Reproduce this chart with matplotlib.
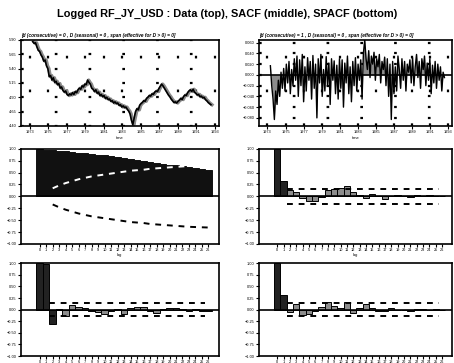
# Logged RF_JY_USD: data, SACF and SPACF panels
import matplotlib
matplotlib.use("Agg")
import matplotlib.pyplot as plt
import numpy as np

plt.rcParams['font.family'] = ['Liberation Sans', 'DejaVu Sans']

# levels series (log of yen per dollar)
levels = [5.87, 5.84, 5.85, 5.78, 5.72, 5.70, 5.64, 5.60, 5.53, 5.55,
          5.45, 5.40, 5.26, 5.28, 5.20, 5.24, 5.16, 5.18, 5.12, 5.14,
          5.06, 5.08, 5.02, 4.99, 5.01, 4.95, 4.93, 4.96, 4.94, 4.98,
          4.95, 5.00, 4.98, 5.03, 5.06, 5.04, 5.10, 5.08, 5.13, 5.12,
          5.20, 5.16, 5.13, 5.06, 5.04, 5.00, 5.03, 4.97, 4.99, 4.93,
          4.95, 4.91, 4.93, 4.88, 4.90, 4.86, 4.87, 4.83, 4.84, 4.80,
          4.82, 4.79, 4.80, 4.76, 4.77, 4.73, 4.75, 4.72, 4.73, 4.69,
          4.66, 4.61, 4.50, 4.42, 4.54, 4.65, 4.70, 4.68, 4.76, 4.79,
          4.81, 4.84, 4.83, 4.88, 4.90, 4.93, 4.92, 4.96, 4.95, 4.99,
          5.01, 5.00, 5.05, 5.09, 5.13, 5.10, 5.06, 5.02, 4.98, 4.94,
          4.91, 4.87, 4.84, 4.81, 4.82, 4.80, 4.83, 4.85, 4.88, 4.86,
          4.91, 4.94, 4.93, 4.98, 5.01, 5.03, 5.00, 5.04, 4.99, 4.97,
          4.94, 4.95, 4.91, 4.92, 4.89, 4.90, 4.86, 4.84, 4.81, 4.79,
          4.77]

# first differences (x1000)
diffs_k = [17, -20, -45, -83, -30, -55, -10, -40, 5, -25,
           12, -30, 20, -15, 25, -35, 10, -20, 30, -10,
           35, -40, 28, -20, 38, -50, 15, -30, 32, -10,
           25, -45, 36, -25, 20, -80, 30, -15, 38, -40,
           10, -30, 34, -20, 22, -55, 30, -10, 26, -35,
           18, -45, 30, -25, 28, -60, 22, -15, 35, -35,
           15, -50, 25, -20, 32, -30, 20, -10, 28, -45,
           40, 65, 30, 10, 45, -5, 35, 20, 42, -10,
           30, 15, 38, -15, 25, 10, 33, -20, 30, -40,
           20, -83, 25, -35, 15, -30, 35, 10, -25, 30,
           -10, 25, -30, 20, 5, 28, -15, 32, -20, 15,
           38, -5, 25, -25, 30, 10, 35, -20, 22, -10,
           30, -35, 18, -15, 25, -25, 20, -10, 15, -30,
           5, -5]
diffs = [v / 1000 for v in diffs_k]

year_labels = ['1973', '1975', '1977', '1979', '1981', '1983',
               '1985', '1987', '1989', '1991', '1993']

lags = list(range(27))

sacf_levels = [0.99, 0.98, 0.97, 0.96, 0.95, 0.93, 0.92, 0.91, 0.89, 0.88,
               0.86, 0.85, 0.83, 0.81, 0.79, 0.77, 0.75, 0.73, 0.71, 0.69,
               0.67, 0.65, 0.63, 0.61, 0.59, 0.57, 0.55]
# Bartlett bands for lags 2..26
sacf_levels_band = [0.17, 0.23, 0.28, 0.32, 0.36, 0.39, 0.42, 0.44, 0.46,
                    0.48, 0.50, 0.52, 0.54, 0.55, 0.56, 0.58, 0.59, 0.60,
                    0.61, 0.62, 0.63, 0.64, 0.645, 0.65, 0.655]

sacf_diffs = [1.0, 0.32, 0.13, 0.10, -0.04, -0.09, -0.10, -0.01, 0.14, 0.15,
              0.17, 0.22, 0.10, 0.02, -0.04, 0.05, 0.01, -0.06, 0.01, 0.03,
              0.01, -0.02, 0.02, 0.01, 0.02, 0.01, 0.0]
sacf_diffs_band = 0.15

spacf_levels = [1.0, 0.99, -0.30, 0.02, -0.13, 0.10, 0.06, 0.04, -0.03, -0.05,
                -0.10, -0.04, 0.02, -0.10, 0.03, 0.05, 0.05, -0.03, -0.08, 0.02,
                0.03, 0.04, 0.02, -0.02, 0.01, -0.02, -0.03]
spacf_levels_band = 0.14

spacf_diffs = [1.0, 0.31, -0.06, 0.12, -0.11, -0.09, -0.02, 0.05, 0.16, 0.07,
               0.03, 0.16, -0.07, 0.03, 0.12, 0.03, -0.04, -0.02, 0.03, 0.0,
               0.0, -0.02, 0.01, 0.02, 0.0, 0.01, 0.0]
spacf_diffs_band = 0.14

sub_left = '[d (consecutive) = 0 , D (seasonal) = 0 , span (effective for D > 0) = 0]'
sub_right = '[d (consecutive) = 1 , D (seasonal) = 0 , span (effective for D > 0) = 0]'

fig = plt.figure(figsize=(4.54, 3.63), dpi=100)
fig.text(0.5, 0.962, 'Logged RF_JY_USD : Data (top), SACF (middle), SPACF (bottom)',
         ha='center', va='center', fontsize=7.9, fontweight='bold')

col_x = [(0.046, 0.436), (0.570, 0.426)]
row_y = [(0.653, 0.237), (0.328, 0.262), (0.019, 0.256)]

def style(ax):
    for s in ax.spines.values():
        s.set_linewidth(1.2)
    ax.tick_params(labelsize=2.8, length=2, width=0.8, pad=1)

def dotted_grid(ax):
    ax.grid(True, linestyle=(0, (1.2, 14)), color='black', linewidth=1.6)
    ax.set_axisbelow(True)

def time_axis(ax, n):
    span = (n - 1) / 0.9
    x0 = -0.06 * span
    ax.set_xlim(x0, x0 + span)
    ticks = np.linspace(x0 + 0.045 * span, x0 + 0.98 * span, len(year_labels))
    ax.set_xticks(ticks)
    ax.set_xticklabels(year_labels)
    ax.set_xlabel('time', fontsize=3, labelpad=1)

# top left: levels
ax = fig.add_axes([col_x[0][0], row_y[0][0], col_x[0][1], row_y[0][1]])
style(ax)
dotted_grid(ax)
x = np.arange(len(levels))
ax.plot(x + 0.8, levels, color='#8a8a8a', lw=2.4)
ax.plot(x, levels, color='black', lw=1.2)
ax.set_ylim(4.4, 5.9)
ax.set_yticks(np.arange(4.4, 5.91, 0.25))
ax.yaxis.set_major_formatter('{x:.2f}')
time_axis(ax, len(levels))
ax.set_title(sub_left, fontsize=3.4, style='italic', fontweight='bold', loc='left', pad=2)

# top right: differences
ax = fig.add_axes([col_x[1][0], row_y[0][0], col_x[1][1], row_y[0][1]])
style(ax)
dotted_grid(ax)
x = np.arange(len(diffs))
ax.fill_between(x, diffs, 0, color='#8c8c8c', lw=0)
ax.plot(x, diffs, color='black', lw=1.0)
ax.axhline(0, color='black', lw=1.2)
ax.set_ylim(-0.095, 0.065)
ax.set_yticks(np.arange(-0.08, 0.061, 0.02))
ax.yaxis.set_major_formatter('{x:.3f}')
time_axis(ax, len(diffs))
ax.set_title(sub_right, fontsize=3.4, style='italic', fontweight='bold', loc='left', pad=2)

def corr_panel(ax, vals, band, fill, edge, band_upper_color='black', xlabel=True):
    style(ax)
    ax.bar(lags, vals, width=1.0, color=fill, edgecolor=edge, linewidth=0.7)
    ax.axhline(0, color='black', lw=1.2)
    ax.set_xlim(-2.9, 27.6)
    ax.set_ylim(-1, 1)
    ax.set_yticks(np.arange(-1, 1.01, 0.25))
    ax.yaxis.set_major_formatter('{x:.2f}')
    ax.set_xticks(lags)
    ax.set_xticklabels([str(l) for l in lags])
    if np.ndim(band) == 0:
        bx = [lags[1] + 0.5, lags[-1] - 0.5]
        ax.plot(bx, [band, band], color=band_upper_color, lw=1.4, dashes=(3, 3))
        ax.plot(bx, [-band, -band], color='black', lw=1.4, dashes=(3, 3))
    else:
        bx = lags[2:]
        ax.plot(bx, band, color=band_upper_color, lw=1.4, dashes=(3, 3))
        ax.plot(bx, [-b for b in band], color='black', lw=1.4, dashes=(3, 3))
    if xlabel:
        ax.set_xlabel('lag', fontsize=3, labelpad=1)

def shades(vals):
    return ['#222222' if abs(v) > 0.25 else '#8c8c8c' for v in vals]

ax = fig.add_axes([col_x[0][0], row_y[1][0], col_x[0][1], row_y[1][1]])
corr_panel(ax, sacf_levels, sacf_levels_band, '#111111', '#111111', band_upper_color='white')

ax = fig.add_axes([col_x[1][0], row_y[1][0], col_x[1][1], row_y[1][1]])
corr_panel(ax, sacf_diffs, sacf_diffs_band, shades(sacf_diffs), 'black')

ax = fig.add_axes([col_x[0][0], row_y[2][0], col_x[0][1], row_y[2][1]])
corr_panel(ax, spacf_levels, spacf_levels_band, shades(spacf_levels), 'black', xlabel=False)

ax = fig.add_axes([col_x[1][0], row_y[2][0], col_x[1][1], row_y[2][1]])
corr_panel(ax, spacf_diffs, spacf_diffs_band, shades(spacf_diffs), 'black', xlabel=False)

fig.savefig('out.png', dpi=100)
